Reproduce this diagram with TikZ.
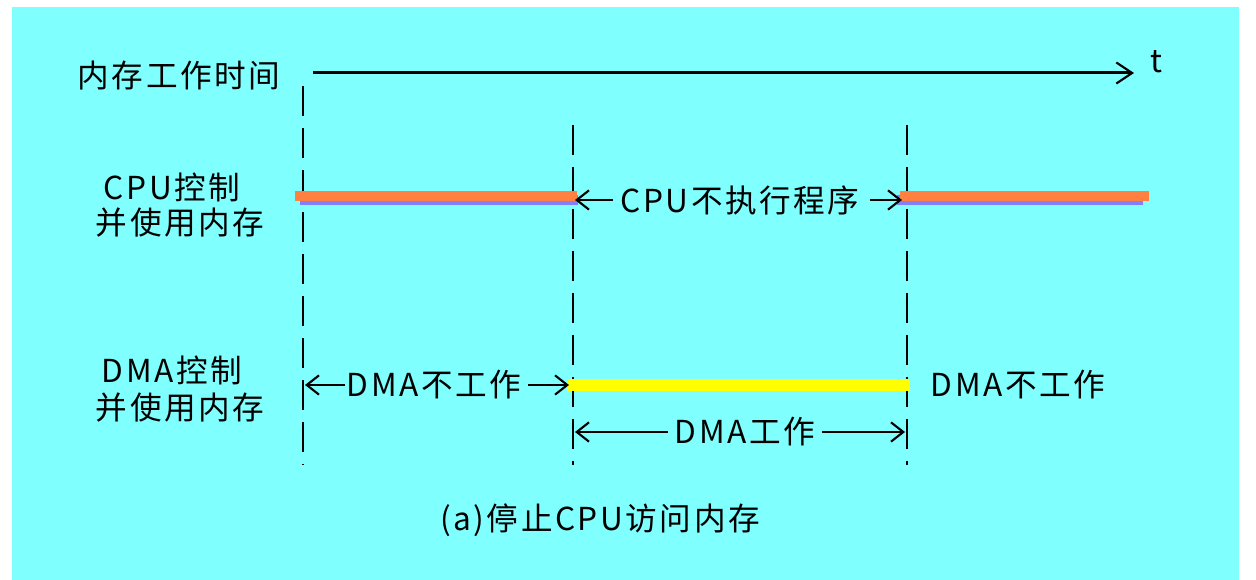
\documentclass[tikz,border=0pt]{standalone}
\usepackage{fontspec}
\setmainfont{Noto Sans CJK SC}
\usetikzlibrary{arrows.meta}
\definecolor{bg}{HTML}{80FFFF}
\definecolor{cpuor}{HTML}{FF8040}
\definecolor{cpubl}{HTML}{8080FF}
\definecolor{dmay}{HTML}{FFFF00}
\begin{document}
\begin{tikzpicture}[x=0.02cm,y=-0.02cm,
  lbl/.style={font=\fontsize{18}{21}\selectfont\addfontfeature{LetterSpace=8}, inner sep=0pt, anchor=center},
  guide/.style={line width=0.04cm, dash pattern=on 0.6cm off 0.24cm},
  axisline/.style={line width=0.06cm, -{Straight Barb[length=9pt,width=12pt,line width=1.2pt]}},
  dim/.style={line width=0.04cm, -{Straight Barb[length=7pt,width=11pt,line width=1.2pt]}},
  cpubar/.style={line width=0.2cm, draw=cpuor},
  cpushadow/.style={line width=0.2cm, draw=cpubl},
  dmabar/.style={line width=0.24cm, draw=dmay}]
\useasboundingbox (0,0) rectangle (1256,580);
\fill[bg] (12,7) rectangle (1239,580);

% time axis
\node[lbl] (title) at (179,76) {内存工作时间};
\coordinate (ax0) at (313,73);
\coordinate (ax1) at (1134,73);
\draw[axisline] (ax0) -- (ax1);
\node[lbl] (t) at (1156,62) {t};

% dashed guides
\coordinate (g1a) at (303,86);  \coordinate (g1b) at (303,465);
\coordinate (g2a) at (573,125); \coordinate (g2b) at (573,465);
\coordinate (g3a) at (907,125); \coordinate (g3b) at (907,465);
\draw[guide] (g1a) -- (g1b);
\draw[guide] (g2a) -- (g2b);
\draw[guide] (g3a) -- (g3b);

% row labels
\node[lbl] (cpu1) at (172,187) {CPU控制};
\node[lbl] (cpu2) at (180,223) {并使用内存};
\node[lbl] (dma1) at (172,370) {DMA控制};
\node[lbl] (dma2) at (180,408) {并使用内存};

% CPU bars
\coordinate (c1a) at (300,200); \coordinate (c1b) at (578,200);
\coordinate (c1c) at (295,196); \coordinate (c1d) at (577,196);
\draw[cpushadow] (c1a) -- (c1b);
\draw[cpubar] (c1c) -- (c1d);
\coordinate (c2a) at (897,200); \coordinate (c2b) at (1143,200);
\coordinate (c2c) at (900,196); \coordinate (c2d) at (1149,196);
\draw[cpushadow] (c2a) -- (c2b);
\draw[cpubar] (c2c) -- (c2d);

% CPU idle label
\node[lbl] (cpuidle) at (740,200) {CPU不执行程序};
\coordinate (ci1) at (613,200); \coordinate (ci1t) at (575,200);
\coordinate (ci2) at (870,200); \coordinate (ci2t) at (902,200);
\draw[dim] (ci1) -- (ci1t);
\draw[dim] (ci2) -- (ci2t);

% DMA bar
\coordinate (d1) at (567,385); \coordinate (d2) at (910,385);
\draw[dmabar] (d1) -- (d2);

% DMA idle left
\node[lbl] (dmaidleL) at (434,385) {DMA不工作};
\coordinate (dl1) at (345,385); \coordinate (dl1t) at (305,385);
\coordinate (dl2) at (528,385); \coordinate (dl2t) at (569,385);
\draw[dim] (dl1) -- (dl1t);
\draw[dim] (dl2) -- (dl2t);

% DMA idle right
\node[lbl] (dmaidleR) at (1018,385) {DMA不工作};

% DMA working
\node[lbl] (dmawork) at (745,432) {DMA工作};
\coordinate (dw1) at (668,432); \coordinate (dw1t) at (575,432);
\coordinate (dw2) at (822,432); \coordinate (dw2t) at (905,432);
\draw[dim] (dw1) -- (dw1t);
\draw[dim] (dw2) -- (dw2t);

% caption
\node[lbl] (caption) at (600,520) {(a)停止CPU访问内存};
\end{tikzpicture}
\end{document}
